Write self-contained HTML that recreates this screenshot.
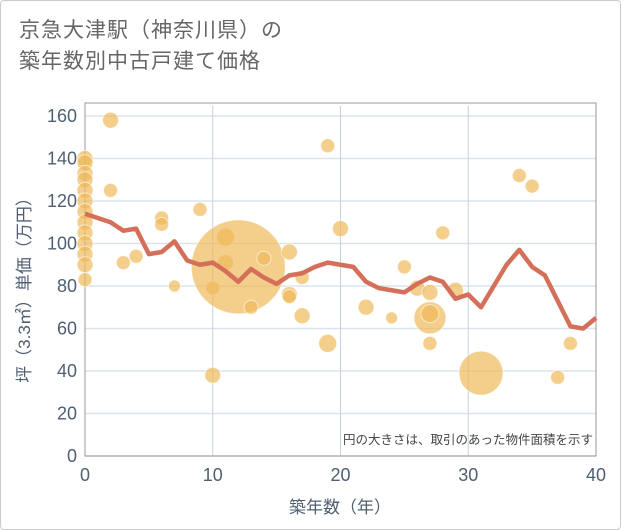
<!DOCTYPE html>
<html><head><meta charset="utf-8">
<style>
body{margin:0;background:#fff;font-family:"Liberation Sans","Noto Sans CJK JP",sans-serif;}
.wrap{position:relative;width:619px;height:528px;border:1px solid #ccc;border-radius:4px;background:#fff;}
.title{position:absolute;left:18px;top:14px;font-size:21px;line-height:31px;color:#666;letter-spacing:1px;}
</style></head><body>
<div class="wrap">
<div class="title">京急大津駅（神奈川県）の<br>築年数別中古戸建て価格</div>
<svg id="chart" width="621" height="530" style="position:absolute;left:-1px;top:-1px"></svg>
</div>
<script>
const xTicks=[0,10,20,30,40];
const yTicks=[0,20,40,60,80,100,120,140,160];
const lineX=[0,1,2,3,4,5,6,7,8,9,10,11,12,13,14,15,16,17,18,19,20,21,22,23,24,25,26,27,28,29,30,31,32,33,34,35,36,37,38,39,40];
const lineY=[114,112,110,106,107,95,96,101,92,90,91,87,82,88,84,81,85,86,89,91,90,89,82,79,78,77,81,84,82,74,76,70,80,90,97,89,85,73,61,60,65];
const bubX=[0,0,0,0,0,0,0,0,0,0,0,0,0,2,2,3,4,6,6,7,9,10,10,11,11,12,13,14,16,16,16,17,17,19,19,20,22,24,25,26,27,27,27,27,28,29,31,34,35,37,38];
const bubY=[140,138,133,130,125,120,115,110,105,100,95,90,83,158,125,91,94,112,109,80,116,38,79,103,91,89,70,93,96,76,75,84,66,146,53,107,70,65,89,79,77,65,67,53,105,78,39,132,127,37,53];
const bubR=[8,8,8,8,8,8,8,8,8,8,8,8,7,8,7,7,7,7,7,6,7,8,7,9,8,47,7,7,8,8,7,7,8,7,9,8,8,6,7,8,8,16,9,7,7,8,22,7,7,7,7];
const L=85,R=596,T=116,B=456;
const sx=v=>L+(R-L)*v/40, sy=v=>B-(B-T)*v/160;
const svg=document.getElementById('chart');const NS='http://www.w3.org/2000/svg';
function mk(t,a,p){const e=document.createElementNS(NS,t);for(const k in a)e.setAttribute(k,a[k]);(p||svg).appendChild(e);return e;}
const grid=mk('g',{});


yTicks.forEach(v=>{mk('line',{x1:L,x2:R,y1:sy(v),y2:sy(v),stroke:'#dbe4ee','stroke-width':1.5},grid);
const t=mk('text',{x:L-8,y:sy(v)+6,'text-anchor':'end','font-size':18,fill:'#4f5f70'});t.textContent=v;

});
xTicks.forEach(v=>{mk('line',{x1:sx(v),x2:sx(v),y1:T-10,y2:B,stroke:'#c3d2e2','stroke-width':1},grid);
const t=mk('text',{x:sx(v),y:B+25,'text-anchor':'middle','font-size':18,fill:'#4f5f70'});t.textContent=v;

});
mk('rect',{x:L,y:T-13,width:R-L,height:B-T+13,fill:'none',stroke:'#999','stroke-width':1});
const bg=mk('g',{});


bubX.forEach((x,i)=>{const c=mk('circle',{cx:sx(x),cy:sy(bubY[i]),r:bubR[i],fill:'rgba(240,185,90,0.7)',stroke:'rgba(255,255,255,0.6)','stroke-width':1},bg);

});
const p=mk('polyline',{points:lineX.map((x,i)=>sx(x)+','+sy(lineY[i])).join(' '),fill:'none',stroke:'#d4705a','stroke-width':4.5,'stroke-linejoin':'round'});


const n=mk('text',{x:593,y:444,'text-anchor':'end','font-size':12.5,fill:'#444'});n.textContent='円の大きさは、取引のあった物件面積を示す';


const xt=mk('text',{x:340,y:513,'text-anchor':'middle','font-size':17,fill:'#4f5f70'});xt.textContent='築年数（年）';


const yt=mk('text',{x:0,y:0,'text-anchor':'middle','font-size':17,fill:'#4f5f70',transform:'translate(30,286) rotate(-90)'});yt.textContent='坪（3.3㎡）単価（万円）';


</script>
</body></html>
